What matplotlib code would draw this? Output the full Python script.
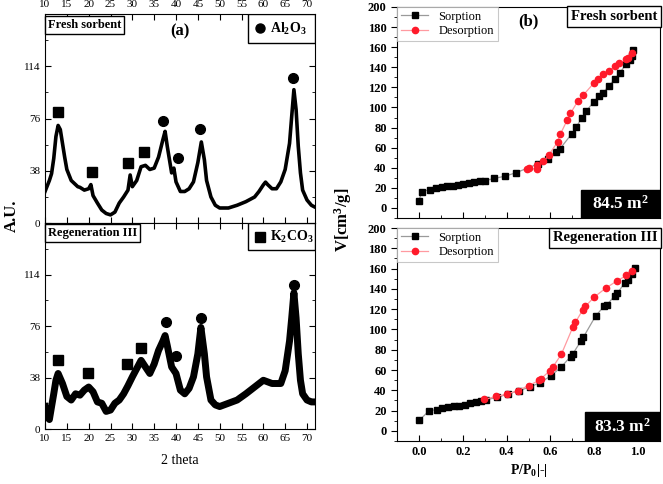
import matplotlib.pyplot as plt
from matplotlib.patches import Rectangle
from matplotlib.ticker import MultipleLocator

plt.rcParams['font.family'] = ['Liberation Serif', 'DejaVu Sans']
plt.rcParams['mathtext.fontset'] = 'custom'
plt.rcParams['mathtext.rm'] = 'Liberation Serif'
plt.rcParams['mathtext.bf'] = 'Liberation Serif:bold'
plt.rcParams['mathtext.it'] = 'Liberation Serif:italic'

# XRD, fresh sorbent
xrd_x1 = [10, 10.5, 11, 11.5, 12, 12.5, 13, 13.5, 14, 14.5, 15, 16, 17, 17.5, 18, 19, 20, 20.5, 21, 22,
          23, 24, 25, 26, 27, 28, 29, 29.5, 30, 31, 32, 33, 34, 35, 36, 37, 37.5, 38, 39, 39.5,
          40, 41, 42, 43, 44, 45, 45.8, 46.5, 47, 48, 49, 50, 52, 54, 56, 58, 59, 60, 60.5, 61,
          62, 63, 64, 65, 66, 66.5, 67, 67.5, 68, 68.5, 69, 70, 71, 71.6]
xrd_y1 = [23, 27, 31, 36, 47, 63, 71, 68, 58, 48, 39, 31, 28, 26.5, 26, 24, 25, 28, 20, 14.6,
          9.5, 7, 6, 8, 14.6, 19, 24, 35, 26.5, 31, 41, 42, 39, 40, 48, 60.7, 66.7, 55.8, 36.5, 40,
          30, 23, 23, 25, 30, 44, 59, 46, 31, 19, 13, 11, 11, 13, 15.6, 19, 23, 27.8, 29.8, 28,
          25, 25, 30, 39, 58, 77.7, 97, 82.6, 55.8, 36.5, 24, 16.8, 13, 12]

# XRD, regeneration III
xrd_x2 = [10, 10.5, 11, 11.5, 12, 12.5, 13, 14, 15, 16, 17, 18, 19, 20, 21, 22, 23, 24, 25, 26,
          27, 28, 29, 30, 31, 32, 33, 34, 35, 36, 37, 37.5, 38, 39, 40, 41, 42, 43, 44, 45,
          45.7, 46.5, 47, 48, 49, 50, 52, 54, 56, 58, 60, 62, 64, 65, 66, 66.5, 67, 67.5, 68, 68.5,
          69, 70, 71, 71.6]
xrd_y2 = [16.6, 9, 7, 16.6, 26, 36, 41, 33.6, 24, 21.4, 26, 25, 28.7, 31, 27.5, 20, 19, 13, 14, 19,
          21.4, 26, 32, 38.5, 44.6, 50.7, 45.8, 41, 48, 58, 65, 69, 61.6, 45.8, 41, 28.7, 26, 30, 38.5, 55.5,
          75, 55.5, 38.5, 21.4, 17.8, 16.6, 19, 21.4, 26, 31, 36, 33.6, 33.6, 43, 65, 82, 100.6, 82, 55.5, 36,
          26, 21.4, 20, 20]

# phase markers
k2co3_x1 = [13.0, 20.7, 29.0, 32.6]
k2co3_y1 = [80.6, 37, 43.6, 52]
al2o3_x1 = [37.0, 40.4, 45.5, 66.8]
al2o3_y1 = [74, 47.7, 68.7, 105.5]
k2co3_x2 = [13.0, 19.8, 28.7, 31.9]
k2co3_y2 = [51, 41.4, 48, 60]
al2o3_x2 = [37.6, 40.0, 45.8, 67.0]
al2o3_y2 = [78.7, 53.8, 81.6, 106]

# N2 isotherms, fresh sorbent
ads_p1 = [0.0, 0.012, 0.048, 0.076, 0.103, 0.129, 0.153, 0.177, 0.2, 0.227, 0.25, 0.276, 0.3,
          0.344, 0.394, 0.442, 0.545, 0.59, 0.623, 0.642, 0.698, 0.718, 0.744, 0.764, 0.798,
          0.823, 0.841, 0.865, 0.894, 0.917, 0.944, 0.962, 0.971, 0.977]
ads_v1 = [7.3, 16.2, 18.2, 19.5, 20.5, 21.5, 22.1, 22.8, 23.8, 24.8, 25.5, 26.4, 27.1,
          29.4, 31.7, 35, 44, 49, 55.2, 58.5, 74, 80.7, 90, 96.5, 105.8,
          111.4, 114.7, 121.3, 128, 134.5, 142.8, 147, 151.7, 156.7]
des_p1 = [0.97, 0.952, 0.944, 0.915, 0.895, 0.865, 0.842, 0.817, 0.797, 0.75, 0.724, 0.691,
          0.676, 0.645, 0.633, 0.592, 0.568, 0.538, 0.538, 0.502, 0.492]
des_v1 = [153.7, 149, 147.8, 143.8, 141, 136.2, 133.2, 128, 124, 112.4, 106, 94,
          87.3, 73.4, 65.8, 52.6, 46.3, 42.6, 38.7, 39.3, 38.7]

# N2 isotherms, regeneration III
ads_p2 = [0.0, 0.047, 0.083, 0.106, 0.132, 0.159, 0.182, 0.208, 0.232, 0.258, 0.283, 0.306,
          0.356, 0.406, 0.456, 0.506, 0.553, 0.602, 0.648, 0.692, 0.703, 0.738, 0.75, 0.806,
          0.844, 0.856, 0.894, 0.905, 0.939, 0.952, 0.97, 0.985]
ads_v2 = [10.3, 20, 21, 22.3, 23.3, 24.3, 25, 26, 27.3, 28.3, 29.3, 30.7,
          33, 36.3, 39.7, 43.3, 47.7, 54.3, 62.7, 73.3, 76.3, 88.3, 92.3, 113.3,
          122.7, 124, 133.3, 135.7, 146, 148.3, 154.7, 161]
des_p2 = [0.971, 0.947, 0.902, 0.852, 0.8, 0.759, 0.747, 0.714, 0.702, 0.65, 0.612, 0.597,
          0.556, 0.548, 0.5, 0.452, 0.402, 0.352, 0.298]
des_v2 = [158, 153.3, 147.7, 140.7, 132, 122.7, 119.3, 107, 102.3, 75.7, 63.3, 59.3,
          51.3, 49.7, 44.7, 39.7, 36.3, 34, 31]

fig = plt.figure(figsize=(6.63, 4.84), dpi=100)
ax1 = fig.add_axes([0.0679, 0.539, 0.407, 0.432])
ax2 = fig.add_axes([0.0679, 0.1136, 0.407, 0.4254])
ax3 = fig.add_axes([0.599, 0.5496, 0.3965, 0.436])
ax4 = fig.add_axes([0.599, 0.0888, 0.3965, 0.440])

box = dict(boxstyle='square,pad=0.25', fc='white', ec='black', lw=1)

# --- XRD panels ---
for ax, xs, ys, lw in [(ax1, xrd_x1, xrd_y1, 2.6), (ax2, xrd_x2, xrd_y2, 5.0)]:
    ax.plot(xs, ys, color='black', lw=lw)
    ax.set_xlim(10, 71.8)
    ax.set_ylim(0, 152)
    ax.set_yticks([0, 38, 76, 114])
    ax.yaxis.set_minor_locator(MultipleLocator(19))
    ax.xaxis.set_major_locator(MultipleLocator(5))
    ax.tick_params(which='both', direction='in', top=True, right=True, labelsize=8)
    ax.tick_params(which='major', length=4)
    ax.tick_params(which='minor', length=2)

ax1.plot(k2co3_x1, k2co3_y1, 's', color='black', ms=7)
ax1.plot(al2o3_x1, al2o3_y1, 'o', color='black', ms=7)
ax2.plot(k2co3_x2, k2co3_y2, 's', color='black', ms=7)
ax2.plot(al2o3_x2, al2o3_y2, 'o', color='black', ms=7)

ax1.tick_params(axis='x', labeltop=True, labelbottom=False)
ax2.set_xlabel('2 theta', fontsize=10, labelpad=8)

ax1.text(0.01, 0.975, 'Fresh sorbent', transform=ax1.transAxes, fontsize=9,
         fontweight='bold', va='top', ha='left', bbox=box)
ax1.text(0.5, 0.915, '(a)', transform=ax1.transAxes, fontsize=12,
         fontweight='bold', ha='center', va='center')
ax2.text(0.01, 0.98, 'Regeneration III', transform=ax2.transAxes, fontsize=9,
         fontweight='bold', va='top', ha='left', bbox=box)
fig.text(0.018, 0.555, 'A.U.', rotation=90, fontsize=12, fontweight='bold',
         ha='center', va='center')

# phase legend boxes
for ax, mk, name, y0 in [(ax1, 'o', '$\\mathbf{Al_2O_3}$', 0.862),
                         (ax2, 's', '$\\mathbf{K_2CO_3}$', 0.868)]:
    ax.add_patch(Rectangle((0.752, y0), 0.248, 1 - y0, transform=ax.transAxes,
                           fc='white', ec='black', lw=1, zorder=5))
    ax.plot([0.795], [(1 + y0) / 2], mk, color='black', ms=6.5, transform=ax.transAxes,
            clip_on=False, zorder=6)
    ax.text(0.835, (1 + y0) / 2, name, transform=ax.transAxes, fontsize=10,
            va='center', ha='left', zorder=6)

# --- isotherm panels ---
for ax, ap, av, dp, dv, tag, area, bx in [
        (ax3, ads_p1, ads_v1, des_p1, des_v1, 'Fresh sorbent', '84.5 m$^\\mathbf{2}$', 0.70),
        (ax4, ads_p2, ads_v2, des_p2, des_v2, 'Regeneration III', '83.3 m$^\\mathbf{2}$', 0.715)]:
    ax.plot(ap, av, '-s', color='#9a9a9a', mfc='black', mec='black', ms=4, lw=0.9, label='Sorption')
    ax.plot(dp, dv, '-o', color='#ff9aa0', mfc='#ff1a2a', mec='#ff1a2a', ms=4.5, lw=0.9, label='Desorption')
    ax.set_xlim(-0.1, 1.1)
    ax.set_ylim(-10, 200)
    ax.yaxis.set_major_locator(MultipleLocator(20))
    ax.yaxis.set_minor_locator(MultipleLocator(10))
    ax.xaxis.set_major_locator(MultipleLocator(0.2))
    ax.xaxis.set_minor_locator(MultipleLocator(0.1))
    ax.tick_params(axis='y', which='both', direction='out', labelsize=9)
    ax.tick_params(axis='x', which='both', direction='in', labelsize=9)
    ax.tick_params(which='major', length=4)
    ax.tick_params(which='minor', length=2)
    for lab in ax.get_xticklabels() + ax.get_yticklabels():
        lab.set_fontweight('bold')
    leg = ax.legend(loc='upper left', fontsize=9, frameon=True, fancybox=False,
                    borderaxespad=0, handlelength=2.2, borderpad=0.3, labelspacing=0.2)
    leg.get_frame().set_edgecolor('#bbbbbb')
    leg.get_frame().set_linewidth(0.8)
    ax.text(0.99, 0.985, tag, transform=ax.transAxes, fontsize=10.5,
            fontweight='bold', va='top', ha='right', bbox=box)
    ax.add_patch(Rectangle((bx, 0), 1 - bx, 0.135, transform=ax.transAxes,
                           fc='black', ec='black', zorder=5))
    ax.text((1 + bx) / 2, 0.0675, area, transform=ax.transAxes, fontsize=12.5,
            color='white', fontweight='bold', va='center', ha='center', zorder=6)

ax3.tick_params(axis='x', labelbottom=False)
ax3.text(0.5, 0.93, '(b)', transform=ax3.transAxes, fontsize=12,
         fontweight='bold', ha='center', va='center')
ax4.set_xlabel('P/P$_\\mathbf{0}$|-|', fontsize=10, fontweight='bold', labelpad=3)
fig.text(0.517, 0.545, 'V[cm$^\\mathbf{3}$/g]', rotation=90, fontsize=12, fontweight='bold',
         ha='center', va='center')

fig.savefig('out.png', dpi=100)
